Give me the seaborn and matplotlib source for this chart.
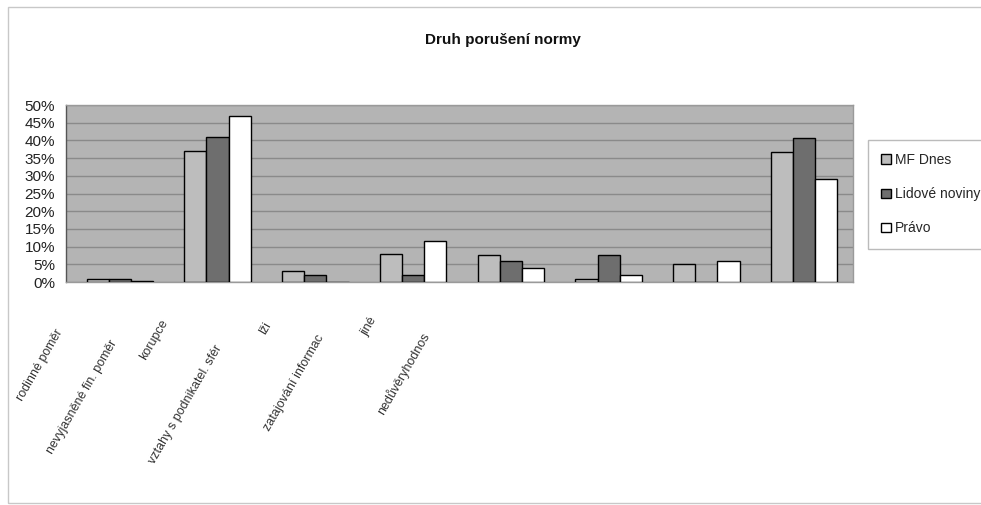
import matplotlib
matplotlib.use("Agg")
import matplotlib.pyplot as plt
from matplotlib.patches import Rectangle
from matplotlib.ticker import FixedLocator, PercentFormatter
import pandas as pd
import seaborn as sns

# -------------------- DATA ------------------------------
kategorie = ["rodinné poměr", "nevyjasněné fin. poměr", "korupce",
             "vztahy s podnikatel. sfér", "lži", "zatajování informac",
             "jiné", "nedůvěryhodnos"]
noviny = ["MF Dnes", "Lidové noviny", "Právo"]
mf_dnes = [0.8, 37.0, 3.0, 7.8, 7.6, 0.8, 5.0, 36.7]
lidove_noviny = [0.8, 41.0, 2.0, 2.0, 6.0, 7.6, 0.0, 40.8]
pravo = [0.3, 47.0, 0.0, 11.7, 3.9, 2.0, 6.0, 29.0]

# -------------------- STYLE -----------------------------
barvy = {"MF Dnes": "#bdbdbd", "Lidové noviny": "#6e6e6e", "Právo": "#ffffff"}
# konec popisku (px v obrazku) - puvodni graf ma popisky posunute doleva
popisky_xy = [(65, 327), (120, 338), (170, 317), (225, 343),
              (274, 320), (327, 333), (379, 315), (432, 330)]

sns.set_style("white")
plt.rcParams["font.family"] = ["Liberation Sans", "DejaVu Sans"]

df = pd.DataFrame({
    "kategorie": kategorie * 3,
    "noviny": [n for n in noviny for _ in kategorie],
    "hodnota": mf_dnes + lidove_noviny + pravo,
})

W, H = 981, 505
fig = plt.figure(figsize=(W / 100, H / 100), dpi=100)
ax = fig.add_axes([66 / W, 1 - 282 / H, (853 - 66) / W, (282 - 105) / H])

sns.barplot(data=df, x="kategorie", y="hodnota", hue="noviny", hue_order=noviny,
            order=kategorie, palette=barvy, width=0.68, edgecolor="black",
            linewidth=1.0, ax=ax, legend=True, zorder=3)

ax.set_facecolor("#b4b4b4")
ax.set_xlim(-0.55, len(kategorie) - 0.5)
ax.set_ylim(0, 50)
ax.yaxis.set_major_locator(FixedLocator(range(0, 51, 5)))
ax.yaxis.set_major_formatter(PercentFormatter(decimals=0))
ax.grid(axis="y", color="#8a8a8a", linewidth=1.0, zorder=0)
ax.set_axisbelow(True)
ax.tick_params(axis="y", labelsize=11, length=0, pad=8, labelcolor="#222222")
ax.set_xlabel("")
ax.set_ylabel("")

# ticky na hranicich kategorii, popisky rucne
ax.set_xticks([i - 0.5 for i in range(len(kategorie) + 1)])
ax.set_xticklabels([])
ax.tick_params(axis="x", length=4, color="#888888", direction="out")
for t, (px, py) in zip(kategorie, popisky_xy):
    fig.text(px / W, 1 - py / H, t, rotation=60, ha="right", va="top",
             fontsize=9, color="#333333")

for s in ax.spines.values():
    s.set_color("#9a9a9a")
    s.set_linewidth(1.0)
ax.spines["left"].set_color("#555555")

leg = ax.legend(loc="upper left", bbox_to_anchor=(868 / W, 1 - 140 / H),
                bbox_transform=fig.transFigure, frameon=True, fontsize=10,
                handlelength=0.7, handleheight=0.7, handletextpad=0.3,
                labelspacing=1.45, borderpad=0.95, borderaxespad=0,
                fancybox=False)
leg.get_frame().set_edgecolor("#aaaaaa")
leg.get_frame().set_linewidth(1.0)

fig.text(503 / W, 1 - 40 / H, "Druh porušení normy", ha="center", va="center",
         fontsize=11, fontweight="bold", color="#111111")

# okraj celeho grafu
fig.patches.append(Rectangle((8 / W, 1 - 503 / H), 1.0, (503 - 7) / H,
                             transform=fig.transFigure, fill=False,
                             edgecolor="#c8c8c8", linewidth=1.0))

fig.savefig("out.png", dpi=100, facecolor="white")
